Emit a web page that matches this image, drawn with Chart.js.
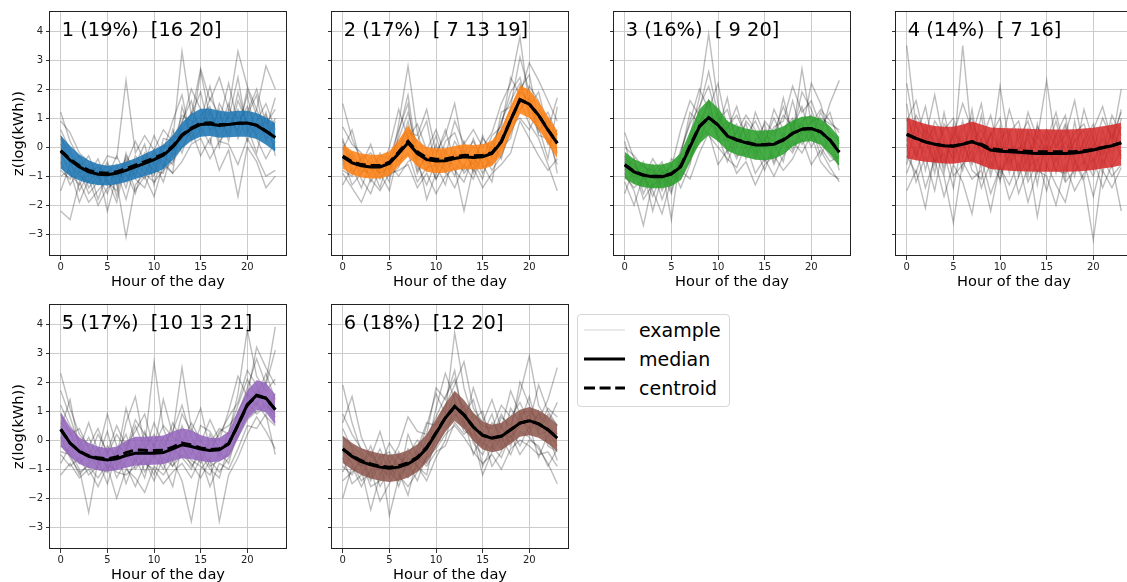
<!DOCTYPE html>
<html><head><meta charset="utf-8">
<script src="https://cdn.jsdelivr.net/npm/chart.js@4.4.1/dist/chart.umd.min.js"></script>
<style>
html,body{margin:0;padding:0;background:#fff;width:1127px;height:582px;overflow:hidden;position:relative;font-family:"DejaVu Sans",sans-serif;}
canvas{position:absolute;}
#legend{position:absolute;left:577px;top:314px;width:153px;height:93px;border:1px solid #d6d6d6;border-radius:4px;box-sizing:border-box;background:#fff;}
#legend .row{position:absolute;left:0;height:24px;width:150px;}
#legend svg{position:absolute;left:5px;top:0;}
#legend span{position:absolute;left:61px;top:0;font-size:19px;line-height:24px;color:#000;white-space:nowrap;}
</style></head>
<body>
<canvas id="c1"></canvas><canvas id="c2"></canvas><canvas id="c3"></canvas>
<canvas id="c4"></canvas><canvas id="c5"></canvas><canvas id="c6"></canvas>
<div id="legend">
  <div class="row" style="top:3px"><svg width="44" height="24"><line x1="1" y1="12" x2="42" y2="12" stroke="#e3e3e3" stroke-width="1.6"/></svg><span>example</span></div>
  <div class="row" style="top:32px"><svg width="44" height="24"><line x1="1" y1="12" x2="42" y2="12" stroke="#000" stroke-width="3"/></svg><span>median</span></div>
  <div class="row" style="top:61px"><svg width="44" height="24"><line x1="1" y1="12" x2="42" y2="12" stroke="#000" stroke-width="3" stroke-dasharray="11,4.6"/></svg><span>centroid</span></div>
</div>
<script>
// ---------- data ----------
const hours = [0,1,2,3,4,5,6,7,8,9,10,11,12,13,14,15,16,17,18,19,20,21,22,23];
const xTicks = [0,5,10,15,20];
const yTicks = [-3,-2,-1,0,1,2,3,4];
const titles = ['1 (19%)  [16 20]','2 (17%)  [ 7 13 19]','3 (16%)  [ 9 20]','4 (14%)  [ 7 16]','5 (17%)  [10 13 21]','6 (18%)  [12 20]'];
const bandColors = ['rgba(31,119,180,0.88)','rgba(255,127,14,0.85)','rgba(44,160,44,0.88)','rgba(214,39,40,0.85)','rgba(148,103,189,0.88)','rgba(140,86,75,0.85)'];

const med1 = [-0.13,-0.45,-0.68,-0.85,-0.93,-0.95,-0.9,-0.8,-0.68,-0.56,-0.43,-0.28,0.0,0.4,0.63,0.78,0.8,0.75,0.78,0.82,0.83,0.75,0.55,0.33];
const cen1 = [-0.12,-0.42,-0.64,-0.8,-0.88,-0.9,-0.85,-0.74,-0.62,-0.5,-0.38,-0.24,0.03,0.42,0.66,0.82,0.84,0.78,0.79,0.82,0.83,0.76,0.56,0.34];
const hi1 = [0.41,0.05,-0.25,-0.45,-0.58,-0.64,-0.6,-0.5,-0.38,-0.24,-0.08,0.08,0.4,0.85,1.15,1.32,1.33,1.25,1.22,1.25,1.25,1.18,1.02,0.82];
const lo1 = [-0.74,-1.0,-1.15,-1.25,-1.3,-1.32,-1.28,-1.2,-1.1,-0.99,-0.9,-0.76,-0.45,-0.05,0.22,0.36,0.38,0.32,0.34,0.36,0.36,0.28,0.08,-0.16];
const ex1 = [
 [0.3,-0.2,-0.9,-0.6,-1.3,-0.8,-1.1,-0.4,-1.0,-0.2,-0.6,0.1,-0.3,0.9,1.6,0.4,1.2,0.6,1.5,0.3,1.1,1.8,0.2,0.9],
 [-0.8,-1.1,-0.5,-1.4,-1.0,-1.6,-0.7,-1.2,-0.5,-0.9,-0.1,-0.7,0.4,0.2,1.1,1.9,0.5,1.3,0.2,1.6,0.8,0.4,1.2,-0.3],
 [1.2,0.2,-0.4,-1.0,-0.6,-1.2,-1.5,-0.3,-0.8,-1.1,-0.2,-0.5,-0.9,1.4,0.3,0.9,2.1,0.7,1.0,2.4,0.5,1.3,0.6,1.7],
 [-0.2,-0.9,-1.3,-0.7,-1.8,-0.9,-0.6,-1.4,-0.3,-0.7,-1.0,0.3,0.2,0.6,1.2,0.7,0.1,1.5,0.9,0.6,1.8,0.3,-0.4,0.2],
 [-1.5,-0.6,-1.0,-1.2,-0.8,-2.2,-1.0,-0.9,-1.6,-0.4,-0.8,-0.9,0.6,-0.2,0.8,1.1,1.4,0.2,0.6,1.3,0.2,0.9,1.5,0.6],
 [0.6,-0.1,-0.7,-0.3,-1.1,-0.5,-1.3,-0.6,0.2,-0.5,0.4,-0.3,-0.6,0.8,2.0,1.3,0.6,0.9,2.2,0.8,1.4,0.6,0.9,-0.1],
 [-0.5,-1.3,-0.8,-1.6,-1.2,-0.6,-1.7,-0.2,-1.1,-1.4,-0.5,-1.2,-0.1,0.3,0.5,2.6,1.0,0.4,1.1,0.5,2.0,1.1,0.3,1.0],
 [0.1,-0.4,-1.5,-0.9,-0.4,-1.3,-0.8,-1.8,-0.6,0.1,-1.3,-0.1,0.9,1.8,0.2,0.6,1.7,1.1,0.4,1.9,0.7,-0.2,1.1,0.4],
 [-2.2,-2.5,-1.2,-1.9,-1.5,-1.1,-1.9,-0.5,-1.5,-1.0,-1.7,-0.6,-0.9,-0.5,0.1,0.3,-0.4,0.2,0.1,-0.6,0.3,-0.3,-1.0,-0.8],
 [0.9,0.5,-0.2,-0.5,-0.9,-0.3,-0.4,2.3,-0.2,0.4,-0.1,0.6,0.2,3.3,1.1,2.7,1.6,2.4,1.3,3.3,2.1,1.3,2.8,2.0],
 [-1.0,-0.8,-1.9,-1.1,-2.0,-1.4,-1.2,-3.1,-1.3,-0.9,-1.2,-0.8,-0.5,0.0,0.6,-0.3,0.3,-0.8,-0.1,-1.7,0.0,-0.5,-1.4,-1.0],
 [0.4,-0.6,-0.3,-0.8,-0.7,-1.0,-0.3,-1.0,-0.9,-0.3,-0.9,0.0,0.1,1.1,0.9,0.8,1.3,0.0,1.3,1.0,1.2,2.0,0.8,1.3]
];

const med2 = [-0.33,-0.54,-0.64,-0.68,-0.68,-0.56,-0.22,0.15,-0.22,-0.43,-0.48,-0.47,-0.39,-0.33,-0.36,-0.33,-0.22,0.18,0.93,1.64,1.48,1.1,0.59,0.13];
const cen2 = [-0.31,-0.5,-0.6,-0.63,-0.63,-0.52,-0.17,0.2,-0.16,-0.37,-0.42,-0.41,-0.34,-0.28,-0.3,-0.29,-0.19,0.2,0.94,1.63,1.48,1.1,0.6,0.14];
const hi2 = [0.1,-0.12,-0.22,-0.26,-0.26,-0.14,0.25,0.75,0.25,0.0,-0.05,-0.04,0.04,0.1,0.07,0.1,0.22,0.64,1.4,2.12,1.98,1.58,1.06,0.56];
const lo2 = [-0.74,-0.95,-1.05,-1.08,-1.08,-0.98,-0.66,-0.32,-0.66,-0.85,-0.9,-0.88,-0.8,-0.75,-0.77,-0.75,-0.65,-0.28,0.46,1.16,1.0,0.62,0.12,-0.39];
const ex2 = [
 [0.2,-0.4,-0.9,-0.3,-1.1,-0.5,0.3,1.2,-0.1,-0.8,0.1,-0.9,-0.2,-0.7,0.3,-0.6,0.1,0.8,1.9,2.4,1.1,0.6,0.9,-0.2],
 [-0.8,-1.0,-0.3,-1.2,-0.6,-1.0,-0.7,0.4,-0.9,-0.2,-1.1,-0.4,-1.0,0.2,-0.9,-0.2,-0.8,-0.3,0.5,1.2,2.1,1.6,0.2,0.6],
 [1.5,0.3,-0.5,-0.8,-0.2,-0.9,0.8,2.8,0.5,-0.6,-0.3,0.6,-0.5,-0.1,-0.8,0.4,-0.4,1.2,1.4,3.1,1.9,0.7,-0.4,1.4],
 [-0.4,-1.3,-0.9,-0.6,-1.4,-0.3,-0.5,-0.2,-1.2,-0.7,-0.6,-1.3,-0.1,-0.9,-0.5,-1.1,0.2,-0.4,0.8,1.0,0.6,1.3,0.8,-0.9],
 [-0.1,0.6,-0.6,-1.0,-0.4,-0.8,0.1,0.6,0.2,0.9,-0.8,0.2,0.5,-0.4,0.0,-0.6,-1.2,0.6,1.3,2.0,2.5,0.9,1.2,0.4],
 [-1.3,-0.7,-1.4,-0.5,-0.9,-1.5,-0.2,0.9,-0.6,-1.3,-0.5,-0.8,-1.4,-0.6,-1.1,-0.2,-0.6,0.0,0.3,1.6,0.8,0.3,-0.6,-1.5],
 [0.7,0.1,-0.2,-0.6,-0.9,0.0,1.3,0.3,0.8,-0.1,0.6,-0.3,0.9,0.1,0.6,0.0,0.5,1.5,2.2,3.8,1.4,1.9,0.6,1.7],
 [-0.6,-0.3,-1.1,-1.6,-0.7,-0.6,-1.0,-0.5,-0.3,-1.8,-0.9,-0.1,-0.8,-1.2,-0.3,-0.9,-0.3,0.3,1.0,1.3,1.7,0.5,1.0,0.2],
 [0.3,-0.9,-0.4,-0.2,-0.6,-1.2,0.5,1.8,-0.4,-0.5,0.4,-0.7,0.2,-0.3,-0.6,0.3,-0.1,0.9,1.6,2.2,1.2,1.1,0.1,0.5],
 [-0.9,-1.4,-1.9,-1.1,-1.5,-0.9,-0.8,-0.6,-1.4,-0.9,-1.6,-1.0,-0.7,-2.2,-0.7,-1.4,-0.9,-0.6,-0.2,0.9,0.3,-0.3,-0.8,-0.4],
 [0.0,-0.5,-0.6,0.1,-0.9,-0.7,-0.1,0.5,0.4,1.3,-0.2,0.4,1.5,-0.2,0.2,-0.4,0.4,0.7,2.4,1.8,2.9,2.3,1.6,0.9],
 [-0.5,-0.2,-0.8,-0.9,-0.3,-0.4,0.6,1.5,-0.8,-0.3,-1.1,-0.5,-0.6,-0.8,-0.4,-0.7,-0.5,0.2,0.7,1.9,1.6,0.4,0.3,-0.6]
];

const med3 = [-0.62,-0.85,-0.97,-1.02,-1.02,-0.93,-0.68,0.01,0.7,1.02,0.76,0.38,0.24,0.15,0.07,0.07,0.1,0.24,0.47,0.62,0.64,0.53,0.24,-0.18];
const cen3 = [-0.6,-0.84,-0.96,-1.0,-1.0,-0.91,-0.65,0.05,0.72,1.02,0.77,0.4,0.26,0.17,0.09,0.09,0.12,0.26,0.48,0.62,0.64,0.53,0.25,-0.16];
const hi3 = [-0.16,-0.42,-0.55,-0.6,-0.6,-0.5,-0.2,0.55,1.3,1.64,1.35,0.9,0.74,0.64,0.57,0.57,0.6,0.72,0.92,1.05,1.07,0.98,0.72,0.34];
const lo3 = [-1.08,-1.28,-1.38,-1.42,-1.42,-1.35,-1.14,-0.5,0.12,0.42,0.2,-0.12,-0.26,-0.35,-0.43,-0.45,-0.4,-0.25,0.02,0.18,0.2,0.08,-0.24,-0.66];
const ex3 = [
 [-0.3,-0.9,-0.5,-1.4,-0.8,-1.2,-0.1,0.8,1.4,2.1,0.9,1.3,0.2,0.8,-0.3,0.6,0.4,1.1,0.7,1.4,0.3,1.2,0.5,0.2],
 [-1.0,-1.4,-1.1,-0.6,-1.5,-0.8,-1.0,-0.4,0.3,0.6,1.2,-0.2,0.6,-0.4,0.3,-0.5,-0.2,0.5,-0.1,0.9,1.1,0.2,-0.3,-0.6],
 [0.5,-0.4,-1.6,-0.9,-0.5,-1.5,-0.3,1.2,0.8,1.6,0.3,0.7,1.1,0.4,0.9,0.2,1.0,0.3,1.6,0.4,0.9,1.0,0.8,0.6],
 [-1.6,-0.7,-1.8,-1.3,-1.1,-0.6,-1.4,-0.6,0.9,0.4,0.0,-0.4,-0.7,0.1,-0.9,-0.4,-1.0,-0.3,0.2,-0.2,0.4,-0.5,-0.9,-1.1],
 [-0.5,-1.2,-0.8,-2.2,-1.0,-1.3,-0.9,0.4,1.7,3.9,1.5,0.2,0.5,1.1,0.6,-0.1,0.7,0.9,2.1,1.2,1.6,0.7,1.2,0.1],
 [-0.8,-0.4,-1.3,-0.7,-1.8,-0.9,-0.5,-0.2,0.1,1.2,0.5,0.9,-0.3,-0.2,0.2,0.8,-0.5,0.1,0.6,0.8,0.0,0.6,-0.2,-0.4],
 [0.2,-1.1,-0.6,-1.0,-0.7,-2.5,-0.2,0.9,2.0,1.3,2.2,0.6,1.4,0.3,-0.2,0.9,0.5,1.4,0.5,1.9,1.3,0.4,1.5,2.3],
 [-1.2,-2.0,-1.0,-1.5,-2.3,-1.1,-0.8,-1.1,-0.2,0.5,-0.6,-0.1,-0.9,-0.5,-1.3,-0.6,-0.3,-0.8,-0.4,0.3,-0.6,-0.1,-0.7,-1.2],
 [-0.4,-0.6,-1.1,-0.4,-0.9,-0.7,0.6,1.6,1.1,0.8,0.6,1.7,0.0,0.9,0.5,0.1,1.3,0.6,1.0,0.5,2.2,1.5,0.3,-0.2],
 [-0.9,-1.5,-2.7,-1.2,-0.6,-1.0,-1.1,-0.5,0.6,1.6,0.2,0.3,-0.4,0.4,0.0,-0.8,0.1,-0.5,0.9,0.1,0.7,-0.3,0.4,-0.8],
 [0.0,-0.3,-0.7,-0.8,-1.3,-0.4,-0.6,0.2,1.3,2.6,1.1,0.5,0.8,-0.1,1.2,0.4,0.2,1.7,0.4,2.7,0.8,1.3,0.9,0.5],
 [-0.6,-1.0,-0.9,-1.7,-0.9,-1.6,-0.4,-0.3,0.4,0.9,0.4,-0.5,0.3,0.2,-0.4,0.3,-0.6,0.2,-0.2,0.6,0.5,0.0,-0.5,-0.3]
];

const med4 = [0.45,0.3,0.18,0.1,0.05,0.03,0.1,0.18,0.07,-0.1,-0.14,-0.16,-0.18,-0.2,-0.22,-0.22,-0.22,-0.22,-0.2,-0.16,-0.1,-0.02,0.05,0.15];
const cen4 = [0.44,0.29,0.18,0.1,0.05,0.04,0.11,0.19,0.1,-0.06,-0.09,-0.11,-0.13,-0.14,-0.16,-0.16,-0.16,-0.16,-0.15,-0.12,-0.08,-0.01,0.06,0.15];
const hi4 = [1.02,0.9,0.8,0.73,0.7,0.7,0.78,0.88,0.78,0.68,0.66,0.65,0.64,0.63,0.62,0.62,0.61,0.61,0.62,0.64,0.67,0.72,0.77,0.84];
const lo4 = [-0.38,-0.45,-0.5,-0.53,-0.56,-0.57,-0.52,-0.5,-0.62,-0.75,-0.79,-0.81,-0.83,-0.84,-0.85,-0.85,-0.85,-0.85,-0.84,-0.82,-0.79,-0.74,-0.69,-0.62];
const ex4 = [
 [1.5,-0.4,0.8,-0.6,1.2,-0.3,0.9,-0.5,1.1,-0.8,0.7,-0.9,0.6,-1.0,0.8,-0.7,0.5,-1.1,0.9,-0.6,0.4,-0.9,0.8,-0.3],
 [-0.6,0.9,-0.8,0.6,-0.9,0.8,-0.4,1.3,-0.7,0.5,-1.2,0.4,-0.8,0.6,-1.3,0.5,-0.9,0.7,-1.0,0.3,-0.8,0.6,-0.5,1.0],
 [2.2,0.3,1.4,-0.2,0.6,1.0,-0.1,0.8,0.2,1.1,-0.3,0.5,0.9,-0.4,0.7,0.2,1.2,-0.2,0.5,0.8,-0.1,1.0,0.3,1.2],
 [0.1,-1.2,-0.3,-1.5,0.2,-1.0,-0.6,-0.1,-1.4,-0.5,-1.1,-0.2,-1.6,-0.7,-0.4,-1.5,-0.3,-1.2,-0.8,-0.5,-1.7,-0.4,-1.0,-0.6],
 [0.9,1.6,0.2,0.7,-0.5,0.4,1.5,0.6,-0.2,0.4,1.0,-0.5,0.3,0.9,-0.2,0.6,0.0,0.8,-0.3,1.3,0.2,-0.2,1.1,0.4],
 [-0.9,0.0,-1.4,-0.4,-1.7,-0.6,-1.2,-2.3,-0.4,-1.6,-0.7,-1.3,-0.5,-1.9,-0.8,-1.0,-2.0,-0.6,-1.5,-0.9,-0.4,-1.4,-0.6,-2.2],
 [3.5,0.7,0.3,1.8,0.1,-0.4,3.5,0.2,0.6,-0.2,2.1,0.1,-0.3,1.2,0.3,2.3,0.0,0.4,1.6,-0.1,0.6,1.4,0.2,2.0],
 [0.4,-0.3,0.6,0.2,-0.7,0.5,0.1,-0.6,0.3,-1.0,0.2,-0.6,-0.1,0.3,-0.9,0.0,-0.5,0.2,-0.4,-1.1,0.1,-0.3,0.5,-0.4],
 [-1.5,-0.8,-2.1,-0.2,-1.0,-2.6,-0.5,-1.1,-0.8,-2.2,-0.6,-1.8,-1.0,-0.3,-2.4,-0.6,-1.3,-1.9,-0.5,-1.2,-3.2,-0.8,-1.4,-0.7],
 [1.0,0.2,-0.2,0.9,0.4,-0.5,0.6,1.0,-0.3,0.5,-0.1,1.3,0.2,-0.6,0.4,-0.1,0.9,-0.4,0.2,0.6,-0.5,0.3,-0.2,0.7],
 [0.2,1.1,0.5,-0.9,0.8,0.3,-0.8,0.4,1.5,-0.4,0.3,0.6,-1.0,0.5,0.1,-0.3,0.4,1.1,-0.6,0.2,0.8,-0.6,0.1,1.3],
 [-0.3,-0.9,0.2,-0.5,-0.2,-1.4,0.3,-0.8,-1.1,0.1,-0.9,-0.3,0.0,-1.2,-0.5,0.1,-0.8,-0.9,0.3,-0.4,-1.0,0.0,-0.7,-0.1]
];

const med5 = [0.38,-0.1,-0.39,-0.56,-0.64,-0.68,-0.64,-0.53,-0.45,-0.45,-0.45,-0.43,-0.3,-0.16,-0.22,-0.31,-0.36,-0.33,-0.13,0.53,1.22,1.55,1.45,1.05];
const cen5 = [0.36,-0.1,-0.38,-0.54,-0.61,-0.64,-0.58,-0.43,-0.34,-0.35,-0.36,-0.35,-0.24,-0.1,-0.17,-0.27,-0.32,-0.3,-0.12,0.52,1.2,1.53,1.44,1.05];
const hi5 = [0.97,0.45,0.1,-0.1,-0.22,-0.28,-0.22,-0.02,0.12,0.12,0.13,0.16,0.3,0.41,0.34,0.18,0.08,0.07,0.3,1.0,1.72,2.06,1.98,1.56];
const lo5 = [-0.22,-0.58,-0.82,-0.96,-1.04,-1.08,-1.04,-0.95,-0.87,-0.86,-0.85,-0.83,-0.72,-0.62,-0.66,-0.72,-0.76,-0.74,-0.56,0.06,0.72,1.05,0.95,0.53];
const ex5 = [
 [1.7,0.8,-0.2,-0.7,-0.3,-1.0,-0.4,0.2,-0.8,0.3,-0.6,0.1,-0.7,0.5,-0.3,-0.8,0.2,-0.6,0.3,1.2,2.1,1.5,2.3,1.4],
 [-0.5,-0.9,-0.6,-1.2,-0.9,-0.4,-1.3,-0.7,-0.2,-1.1,-0.5,-1.0,-0.3,-0.6,-1.0,-0.2,-0.9,-0.7,-0.5,0.2,0.9,1.3,0.8,0.5],
 [0.9,0.2,0.4,-0.3,-0.8,-0.2,-0.6,1.1,-0.1,-0.4,0.6,-0.2,0.3,1.2,0.1,-0.5,-0.1,0.4,0.2,1.6,3.8,2.2,1.7,2.1],
 [0.1,-0.6,-1.1,-0.9,-1.3,-0.8,-1.1,-1.2,-0.9,-0.7,-1.4,-0.6,-0.9,-0.5,-0.8,-1.3,-0.7,-1.1,-0.6,0.1,0.7,1.0,1.3,0.6],
 [2.3,1.1,0.2,-0.2,0.4,-0.5,0.2,-0.3,0.7,0.2,-0.2,0.5,0.1,-0.1,0.6,0.0,-0.4,0.3,0.5,0.9,1.8,2.8,1.9,3.1],
 [-0.2,-0.4,-1.0,-2.5,-0.7,-1.5,-0.5,-0.9,-1.6,-0.8,-1.0,-1.5,-1.1,-0.8,-1.3,-0.6,-1.6,-0.8,-1.0,-0.3,0.5,0.4,0.9,-0.5],
 [0.6,0.3,-0.5,0.1,-0.6,0.3,-0.9,0.6,1.5,-0.2,2.7,0.4,-0.4,0.9,0.3,1.1,-0.3,0.2,0.8,1.3,2.4,1.9,1.0,1.6],
 [-0.8,-0.2,-0.8,-0.4,-1.0,-1.1,-0.3,-1.5,-0.6,-1.3,-0.1,-0.8,-1.6,-0.2,-0.7,-0.9,-1.2,-0.4,-0.8,0.4,1.1,1.7,1.4,0.8],
 [1.2,0.5,0.0,-0.6,0.2,-0.4,0.5,-0.2,0.3,0.9,-0.3,1.4,0.2,2.5,0.4,-0.1,0.7,0.0,1.0,2.2,1.5,3.2,2.5,1.9],
 [-1.2,-0.8,-1.3,-1.0,-1.6,-0.9,-2.0,-1.0,-1.3,-1.8,-0.9,-1.2,-0.7,-1.4,-2.8,-1.0,-0.6,-2.8,-1.2,-0.6,0.2,0.8,0.3,-0.3],
 [0.4,1.4,-0.3,0.6,-0.4,0.9,-0.2,-0.4,0.5,-0.3,0.2,-0.4,0.6,0.0,-0.5,0.5,0.3,-0.3,0.0,1.0,1.6,1.2,2.0,3.9],
 [-0.4,-0.5,-1.2,-0.8,-0.5,-0.9,-1.0,-0.3,-1.0,-0.6,-1.2,-0.3,-0.9,-0.2,-0.9,-0.5,-1.0,-1.3,-0.2,0.6,1.3,0.9,1.2,0.9]
];

const med6 = [-0.31,-0.56,-0.74,-0.85,-0.93,-0.97,-0.93,-0.82,-0.62,-0.28,0.24,0.76,1.16,0.87,0.45,0.16,0.07,0.13,0.36,0.59,0.67,0.56,0.36,0.07];
const cen6 = [-0.3,-0.54,-0.71,-0.82,-0.9,-0.93,-0.89,-0.78,-0.59,-0.25,0.26,0.77,1.16,0.87,0.46,0.17,0.08,0.14,0.36,0.59,0.67,0.56,0.36,0.08];
const hi6 = [0.16,-0.1,-0.28,-0.38,-0.46,-0.5,-0.46,-0.35,-0.14,0.2,0.72,1.25,1.7,1.38,0.95,0.64,0.53,0.6,0.83,1.05,1.14,1.03,0.83,0.53];
const lo6 = [-0.79,-1.02,-1.2,-1.32,-1.4,-1.44,-1.4,-1.29,-1.1,-0.76,-0.24,0.28,0.66,0.38,-0.03,-0.32,-0.42,-0.35,-0.12,0.12,0.17,0.08,-0.12,-0.39];
const ex6 = [
 [0.4,-0.3,-0.9,-0.2,-1.2,-0.5,-1.0,-0.3,-0.9,0.1,0.8,1.5,2.1,0.9,1.4,0.2,0.9,-0.2,1.1,0.6,1.5,0.3,0.9,0.5],
 [-0.9,-1.2,-0.6,-1.4,-0.8,-1.3,-0.5,-1.2,-0.4,-0.8,-0.2,0.4,0.8,1.2,-0.1,-0.5,0.2,-0.3,0.0,0.9,0.2,1.0,-0.2,-0.4],
 [1.9,0.6,-0.4,-0.9,-0.3,-1.1,-1.4,0.2,-0.6,0.5,1.6,0.9,3.7,1.8,0.7,1.0,-0.2,0.8,0.5,1.6,2.9,1.2,0.6,1.3],
 [-0.6,-1.5,-1.2,-0.7,-1.6,-1.0,-1.2,-1.6,-1.1,-0.6,-0.3,0.2,0.5,0.1,-0.4,-0.8,-0.5,-1.0,-0.3,0.0,-0.2,-0.5,-0.4,-0.9],
 [0.1,-0.2,-0.5,-1.3,-0.6,-0.4,-0.9,-0.5,0.0,-0.4,1.1,2.3,1.4,0.4,0.9,0.5,0.4,1.2,0.8,1.3,0.6,1.9,1.0,0.5],
 [-2.0,-0.9,-1.6,-1.0,-2.1,-1.5,-0.8,-1.3,-0.9,-1.2,0.3,0.5,0.9,0.6,0.1,-1.2,-0.4,0.1,-0.5,0.3,0.1,-0.3,-0.8,-1.5],
 [0.9,0.2,-0.3,-0.5,-0.9,-0.1,-0.6,-0.9,-0.3,0.6,0.5,1.2,1.9,2.7,1.1,0.6,1.4,0.4,1.7,0.9,1.0,0.7,1.4,2.5],
 [-0.4,-0.8,-1.4,-1.1,-0.5,-2.6,-1.3,-0.8,-1.4,-0.5,0.0,0.9,1.0,0.3,0.2,-0.2,0.6,0.2,0.1,0.5,0.9,0.2,0.3,-0.2],
 [-1.1,-0.4,-1.0,-2.4,-1.2,-0.7,-1.6,-0.6,-0.9,-1.4,-0.6,0.0,1.3,0.7,-0.5,0.2,-0.9,-0.4,0.4,-0.2,0.5,-0.6,0.2,-0.7],
 [0.6,1.5,0.1,-0.6,0.3,-0.8,-0.2,0.8,0.3,0.2,1.8,1.4,2.4,0.5,1.8,0.8,0.1,0.9,0.3,2.0,1.2,0.4,1.1,0.8],
 [-0.2,-0.6,-0.9,-0.4,-1.0,-1.2,-0.4,-1.0,-0.6,-0.2,0.6,0.7,1.6,1.1,0.3,-0.1,-0.3,0.5,-0.2,0.8,0.4,0.9,0.5,0.2],
 [-1.4,-1.1,-0.7,-1.6,-1.4,-0.9,-1.1,-1.9,-0.6,-0.9,-0.4,-0.2,0.6,0.2,0.5,-0.9,-0.2,-0.6,0.2,-0.5,0.0,-0.2,-0.9,-0.3]
];

// ---------- layout ----------
const panelLeft = [50,332,614,896,50,332];
const panelTop = [11,11,11,11,304,304];
const PW = 236, PH = 245, AXW = 50, AXH = 36, PADR = 6;

const panels = [
  {med:med1,cen:cen1,hi:hi1,lo:lo1,ex:ex1},
  {med:med2,cen:cen2,hi:hi2,lo:lo2,ex:ex2},
  {med:med3,cen:cen3,hi:hi3,lo:lo3,ex:ex3},
  {med:med4,cen:cen4,hi:hi4,lo:lo4,ex:ex4},
  {med:med5,cen:cen5,hi:hi5,lo:lo5,ex:ex5},
  {med:med6,cen:cen6,hi:hi6,lo:lo6,ex:ex6}
];

function pts(arr){ return arr.map((v,i)=>({x:hours[i], y:v})); }
function fmtY(v){ return v < 0 ? '\u2212' + Math.abs(v) : String(v); }

const framePlugin = {
  id:'frame',
  afterDatasetsDraw(chart, args, opts){
    const a = chart.chartArea, ctx = chart.ctx;
    ctx.save();
    ctx.font = '19.4px "DejaVu Sans"';
    ctx.fillStyle = '#000';
    ctx.textBaseline = 'alphabetic';
    ctx.textAlign = 'left';
    ctx.fillText(opts.title, a.left + 0.05*(a.right-a.left), a.top + 25);
    ctx.strokeStyle = '#222';
    ctx.lineWidth = 1;
    ctx.strokeRect(Math.round(a.left)-0.5, Math.round(a.top)+0.5, Math.round(a.right-a.left)+1, Math.round(a.bottom-a.top)-1);
    ctx.restore();
  }
};

panels.forEach((p, i) => {
  const cv = document.getElementById('c'+(i+1));
  const W = AXW + PW + PADR, H = 11 + PH + AXH;
  cv.width = W; cv.height = H;
  cv.style.left = (panelLeft[i]-AXW) + 'px';
  cv.style.top = (panelTop[i]-11) + 'px';
  const showY = (i === 0 || i === 4);
  const ds = [];
  ds.push({data:pts(p.med), borderColor:'#000', borderWidth:3, pointRadius:0, fill:false, tension:0});
  ds.push({data:pts(p.cen), borderColor:'#000', borderWidth:3, borderDash:[10,5], pointRadius:0, fill:false, tension:0});
  ds.push({data:pts(p.hi), borderColor:'rgba(0,0,0,0)', borderWidth:1, backgroundColor:bandColors[i], pointRadius:0, fill:'+1', tension:0});
  ds.push({data:pts(p.lo), borderColor:'rgba(0,0,0,0)', borderWidth:1, pointRadius:0, fill:false, tension:0});
  p.ex.forEach(e => ds.push({data:pts(e), borderColor:'rgba(0,0,0,0.26)', borderWidth:1.4, pointRadius:0, fill:false, tension:0}));

  new Chart(cv, {
    type:'line',
    data:{datasets:ds},
    options:{
      responsive:false, animation:false, events:[],
      layout:{padding:{left:0, top:11, right:PADR, bottom:0}},
      plugins:{legend:{display:false}, tooltip:{enabled:false}, frame:{title:titles[i]}},
      scales:{
        x:{type:'linear', min:-1.15, max:24.15,
           afterBuildTicks(s){ s.ticks = xTicks.map(v=>({value:v})); },
           afterFit(s){ s.height = AXH; },
           grid:{color:'#cccccc', lineWidth:1, tickColor:'#333', tickLength:4, drawTicks:true},
           border:{display:false},
           ticks:{font:{family:'DejaVu Sans', size:10}, color:'#222', padding:1, maxRotation:0, autoSkip:false},
           title:{display:true, text:'Hour of the day', font:{family:'DejaVu Sans', size:14.6}, color:'#000', padding:{top:0,bottom:1}}
        },
        y:{type:'linear', min:-3.75, max:4.69,
           afterBuildTicks(s){ s.ticks = yTicks.map(v=>({value:v})); },
           afterFit(s){ s.width = AXW; },
           grid:{color:'#cccccc', lineWidth:1, tickColor:'#333', tickLength:4, drawTicks:true},
           border:{display:false},
           ticks:{font:{family:'DejaVu Sans', size:10}, color:'#222', padding:3, autoSkip:false,
                  callback:(v)=> showY ? fmtY(v) : ''},
           title:{display:showY, text:'z(log(kWh))', font:{family:'DejaVu Sans', size:14.6}, color:'#000', padding:{top:10,bottom:0}}
        }
      }
    },
    plugins:[framePlugin]
  });
});
</script>
</body></html>
